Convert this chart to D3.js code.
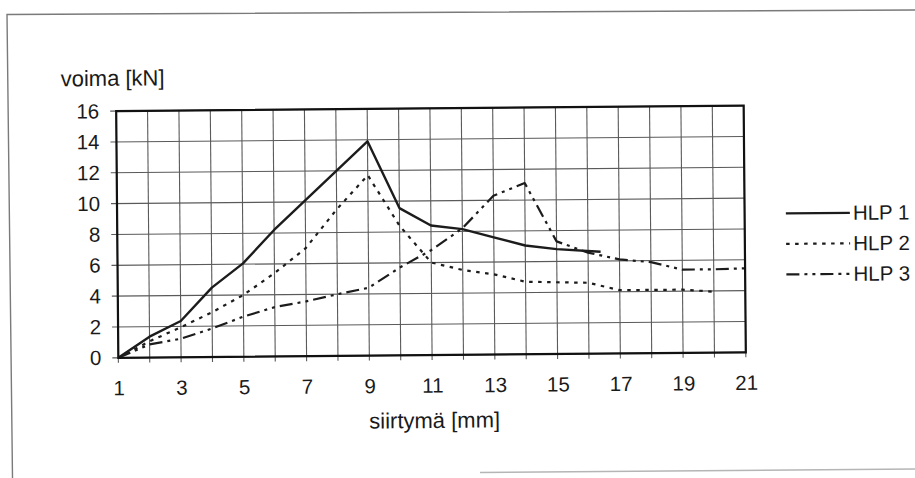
<!DOCTYPE html>
<html>
<head>
<meta charset="utf-8">
<script src="https://cdn.jsdelivr.net/npm/d3@7"></script>
<style>
  html, body { margin: 0; padding: 0; background: #fff; }
  svg { display: block; }
  text { font-family: "Liberation Sans", Arial, sans-serif; fill: #1a1a1a; }
</style>
</head>
<body>
<svg id="chart" width="915" height="478"></svg>
<script>
// Load–displacement measurements, three test pieces
const hlp1X = [1, 2, 3, 4, 5, 6, 7, 8, 9, 10, 11, 12, 13, 14, 15, 16.4];
const hlp1Y = [0, 1.35, 2.35, 4.5, 6.05, 8.2, 10.1, 12, 13.9, 9.55, 8.4, 8.15, 7.6, 7.05, 6.8, 6.6];

const hlp2X = [1, 2, 3, 4, 5, 6, 7, 8, 9, 10, 11, 12, 13, 14, 15, 16, 17, 18, 19, 20];
const hlp2Y = [0, 1.05, 1.95, 2.9, 4.0, 5.4, 7.0, 9.5, 11.7, 8.4, 6.0, 5.5, 5.2, 4.7, 4.65, 4.6, 4.1, 4.1, 4.1, 3.95];

const hlp3X = [1, 2, 3, 4, 5, 6, 7, 8, 9, 10, 11, 12, 13, 14, 15, 16, 17, 18, 19, 20, 21];
const hlp3Y = [0, 0.85, 1.2, 1.85, 2.6, 3.2, 3.55, 4.0, 4.4, 5.7, 6.8, 8.2, 10.3, 11.1, 7.3, 6.55, 6.1, 5.9, 5.4, 5.4, 5.45];

const seriesNames = ["HLP 1", "HLP 2", "HLP 3"];
const xTicks = d3.range(1, 22);          // gridline every millimetre
const xLabels = d3.range(1, 22, 2);      // labels on odd values
const yTicks = d3.range(0, 17, 2);

const series = [
  { name: seriesNames[0], xs: hlp1X, ys: hlp1Y, dash: null, width: 2.4 },
  { name: seriesNames[1], xs: hlp2X, ys: hlp2Y, dash: "3.5,5.5", width: 2.2 },
  { name: seriesNames[2], xs: hlp3X, ys: hlp3Y, dash: "13,5,3,5,3,5", width: 2.2 }
];

const FS = 20.5;

const svg = d3.select("#chart");

// page frame
svg.append("path")
  .attr("d", "M12.5,478 L7,14.5 L915,10")
  .attr("fill", "none").attr("stroke", "#7a7a7a").attr("stroke-width", 1.4);
svg.append("path")
  .attr("d", "M480,472.5 L915,469")
  .attr("fill", "none").attr("stroke", "#b5b5b5").attr("stroke-width", 1.4);

// whole chart sits slightly tilted on the page
const g = svg.append("g").attr("transform", "rotate(-0.5, 431, 231.7)");

const plot = { left: 117.25, right: 744.75, top: 108.35, bottom: 355.05 };

const x = d3.scaleLinear().domain([1, 21]).range([plot.left, plot.right]);
const y = d3.scaleLinear().domain([0, 16]).range([plot.bottom, plot.top]);

// grid
g.append("g").selectAll("line").data(xTicks).join("line")
  .attr("x1", d => x(d)).attr("x2", d => x(d))
  .attr("y1", plot.top).attr("y2", plot.bottom + 5)
  .attr("stroke", "#5a5a5a").attr("stroke-width", 1.1);
g.append("g").selectAll("line").data(yTicks).join("line")
  .attr("x1", plot.left - 6).attr("x2", plot.right)
  .attr("y1", d => y(d)).attr("y2", d => y(d))
  .attr("stroke", "#5a5a5a").attr("stroke-width", 1.1);

// axes labels via d3 axes (lines hidden, text only)
const xAxis = g.append("g")
  .attr("transform", `translate(0,${plot.bottom})`)
  .call(d3.axisBottom(x).tickValues(xLabels).tickSize(0).tickPadding(23).tickFormat(d3.format("d")));
xAxis.select(".domain").remove();
xAxis.selectAll("text").attr("font-size", FS).style("font-family", "Liberation Sans, Arial, sans-serif").attr("fill", "#1a1a1a");

const yAxis = g.append("g")
  .attr("transform", `translate(${plot.left},0)`)
  .call(d3.axisLeft(y).tickValues(yTicks).tickSize(0).tickPadding(17).tickFormat(d3.format("d")));
yAxis.select(".domain").remove();
yAxis.selectAll("text").attr("font-size", FS).style("font-family", "Liberation Sans, Arial, sans-serif").attr("fill", "#1a1a1a");

// data lines
const line = d3.line().x(d => x(d[0])).y(d => y(d[1]));
series.forEach(s => {
  g.append("path")
    .datum(s.xs.map((v, i) => [v, s.ys[i]]))
    .attr("d", line)
    .attr("fill", "none")
    .attr("stroke", "#1c1c1c")
    .attr("stroke-width", s.width)
    .attr("stroke-linejoin", "round")
    .attr("stroke-dasharray", s.dash);
});

// plot border
g.append("rect")
  .attr("x", plot.left).attr("y", plot.top)
  .attr("width", plot.right - plot.left).attr("height", plot.bottom - plot.top)
  .attr("fill", "none").attr("stroke", "#111").attr("stroke-width", 2.2);

// axis titles
g.append("text").attr("x", 62).attr("y", 83).attr("font-size", 22).text("voima [kN]");
g.append("text").attr("x", 433).attr("y", 428).attr("font-size", 22)
  .attr("text-anchor", "middle").text("siirtymä [mm]");

// legend
const leg = g.append("g");
series.forEach((s, i) => {
  const ly = 216.5 + i * 30.5;
  leg.append("line")
    .attr("x1", 786).attr("x2", 850).attr("y1", ly).attr("y2", ly)
    .attr("stroke", "#1c1c1c").attr("stroke-width", s.width)
    .attr("stroke-dasharray", s.dash);
  leg.append("text").attr("x", 853).attr("y", ly + 7).attr("font-size", FS).text(s.name);
});
</script>
</body>
</html>
